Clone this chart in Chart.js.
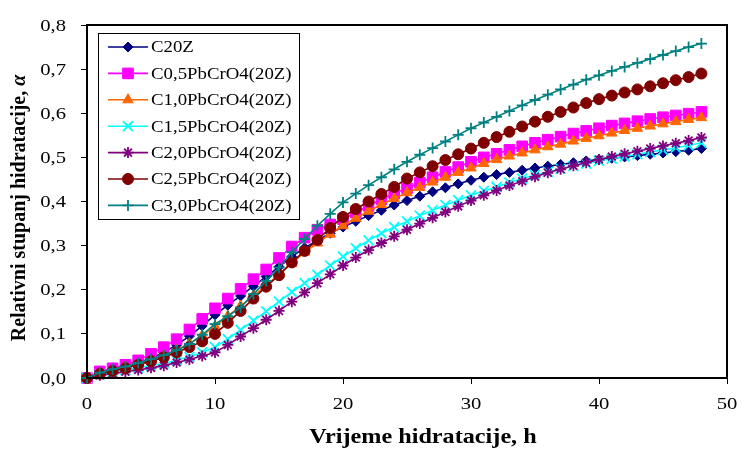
<!DOCTYPE html>
<html>
<head>
<meta charset="utf-8">
<script src="https://cdn.jsdelivr.net/npm/chart.js@4/dist/chart.umd.min.js"></script>
<style>
  html, body { margin: 0; padding: 0; background: #fff; }
  #wrap { width: 742px; height: 449px; }
</style>
</head>
<body>
<div id="wrap"><canvas id="hydration-chart" width="742" height="449"></canvas></div>
<script>
let hours = Array.from({length: 49}, (_, i) => i);

let seriesNames = ["C20Z", "C0,5PbCrO4(20Z)", "C1,0PbCrO4(20Z)", "C1,5PbCrO4(20Z)",
                   "C2,0PbCrO4(20Z)", "C2,5PbCrO4(20Z)", "C3,0PbCrO4(20Z)"];

let c20z = [0, 0.012, 0.02, 0.027, 0.035, 0.045, 0.058, 0.075, 0.095, 0.118,
  0.143, 0.165, 0.186, 0.208, 0.23, 0.252, 0.275, 0.295, 0.312, 0.328,
  0.342, 0.355, 0.368, 0.38, 0.392, 0.402, 0.412, 0.422, 0.431, 0.44,
  0.448, 0.455, 0.461, 0.466, 0.471, 0.476, 0.48, 0.484, 0.488, 0.492,
  0.495, 0.498, 0.501, 0.504, 0.507, 0.51, 0.513, 0.516, 0.52];

let c05 = [0, 0.015, 0.022, 0.03, 0.04, 0.055, 0.07, 0.088, 0.11, 0.134,
  0.158, 0.18, 0.202, 0.224, 0.246, 0.272, 0.298, 0.318, 0.336, 0.348,
  0.36, 0.375, 0.39, 0.405, 0.418, 0.43, 0.443, 0.455, 0.467, 0.478,
  0.49, 0.5, 0.508, 0.517, 0.525, 0.533, 0.54, 0.547, 0.554, 0.56,
  0.566, 0.572, 0.577, 0.582, 0.587, 0.591, 0.595, 0.599, 0.603];

let c10 = [0, 0.01, 0.018, 0.025, 0.032, 0.04, 0.05, 0.063, 0.078, 0.096,
  0.117, 0.14, 0.163, 0.186, 0.21, 0.235, 0.26, 0.285, 0.306, 0.326,
  0.345, 0.362, 0.378, 0.393, 0.407, 0.42, 0.432, 0.444, 0.455, 0.466,
  0.476, 0.486, 0.495, 0.503, 0.51, 0.517, 0.524, 0.53, 0.537, 0.543,
  0.549, 0.555, 0.561, 0.566, 0.571, 0.576, 0.581, 0.586, 0.59];

let c15 = [0, 0.008, 0.013, 0.018, 0.023, 0.028, 0.033, 0.04, 0.048, 0.058,
  0.07, 0.088, 0.109, 0.13, 0.151, 0.173, 0.195, 0.215, 0.234, 0.255,
  0.275, 0.294, 0.312, 0.328, 0.342, 0.355, 0.368, 0.38, 0.392, 0.403,
  0.414, 0.424, 0.433, 0.443, 0.452, 0.46, 0.467, 0.474, 0.48, 0.486,
  0.492, 0.497, 0.502, 0.507, 0.512, 0.517, 0.522, 0.527, 0.533];

let c20 = [0, 0.006, 0.01, 0.014, 0.018, 0.023, 0.028, 0.035, 0.042, 0.05,
  0.058, 0.075, 0.094, 0.113, 0.132, 0.152, 0.173, 0.194, 0.215, 0.235,
  0.255, 0.273, 0.29, 0.306, 0.321, 0.336, 0.35, 0.363, 0.376, 0.389,
  0.402, 0.414, 0.425, 0.436, 0.446, 0.456, 0.465, 0.473, 0.481, 0.488,
  0.495, 0.502, 0.508, 0.514, 0.52, 0.526, 0.532, 0.538, 0.545];

let c25 = [0, 0.01, 0.016, 0.022, 0.03, 0.038, 0.047, 0.058, 0.07, 0.083,
  0.1, 0.125, 0.152, 0.18, 0.207, 0.233, 0.262, 0.288, 0.313, 0.34,
  0.365, 0.383, 0.4, 0.417, 0.433, 0.452, 0.466, 0.48, 0.494, 0.507,
  0.52, 0.533, 0.546, 0.558, 0.57, 0.581, 0.592, 0.603, 0.613, 0.623,
  0.632, 0.64, 0.647, 0.654, 0.661, 0.668, 0.675, 0.682, 0.69];

let c30 = [0, 0.012, 0.02, 0.026, 0.034, 0.043, 0.052, 0.063, 0.077, 0.098,
  0.122, 0.14, 0.16, 0.19, 0.22, 0.25, 0.285, 0.315, 0.345, 0.372,
  0.398, 0.418, 0.437, 0.455, 0.473, 0.49, 0.506, 0.521, 0.536, 0.551,
  0.566, 0.579, 0.592, 0.605, 0.618, 0.63, 0.642, 0.654, 0.665, 0.676,
  0.686, 0.696, 0.705, 0.714, 0.723, 0.732, 0.741, 0.75, 0.758];

let xTicks = [0, 10, 20, 30, 40, 50];
let yTicks = [0, 0.1, 0.2, 0.3, 0.4, 0.5, 0.6, 0.7, 0.8];

let allValues = [c20z, c05, c10, c15, c20, c25, c30];
let colors = ["#000080", "#FF00FF", "#FF6600", "#00FFFF", "#800080", "#800000", "#008080"];
let styles = ["rectRot", "rect", "triangle", "crossRot", "star", "circle", "cross"];
let radii = [5, 7.5, 6, 7, 5.5, 5.5, 5.5];

let serif = "'Liberation Serif', 'Times New Roman', serif";

function isStroked(s){
  return s == "cross" || s == "crossRot" || s == "star";
}

function toPoints(vals){
  return vals.map((v, i) => ({x: hours[i], y: v}));
}

let datasets = allValues.map((vals, i) => ({
  label: seriesNames[i],
  data: toPoints(vals),
  borderColor: colors[i],
  backgroundColor: colors[i],
  pointBackgroundColor: colors[i],
  pointBorderColor: colors[i],
  pointStyle: styles[i],
  pointRadius: radii[i],
  pointBorderWidth: isStroked(styles[i]) ? 1.8 : 1,
  borderWidth: 1.6,
  tension: 0,
  clip: false,
  order: 6 - i
}));

// text stretched sideways like the original picture
function wideText(ctx, text, x, y, sx, align){
  ctx.save();
  ctx.translate(x, y);
  ctx.scale(sx, 1);
  ctx.textAlign = align;
  ctx.fillText(text, 0, 0);
  ctx.restore();
}

let framePlugin = {
  id: 'frame',
  afterDraw(chart){
    let ctx = chart.ctx;
    let a = chart.chartArea;
    let xs = chart.scales.x, ys = chart.scales.y;
    ctx.save();
    ctx.strokeStyle = "#000";
    ctx.lineWidth = 2;
    ctx.strokeRect(a.left, a.top, a.right - a.left, a.bottom - a.top);

    // tick labels and titles
    ctx.fillStyle = "#000";
    ctx.textBaseline = "middle";
    ctx.font = "17.5px " + serif;
    yTicks.forEach(v => {
      wideText(ctx, v.toFixed(1).replace('.', ','), 66, ys.getPixelForValue(v) + 1, 1.18, 'right');
    });
    xTicks.forEach(v => {
      wideText(ctx, String(v), xs.getPixelForValue(v), 404, 1.18, 'center');
    });
    ctx.font = "bold 22px " + serif;
    wideText(ctx, "Vrijeme hidratacije, h", 423, 437, 1.1, 'center');

    ctx.save();
    ctx.translate(20, 208);
    ctx.rotate(-Math.PI / 2);
    let t1 = "Relativni stupanj hidratacije, ";
    ctx.font = "bold 20px " + serif;
    let w1 = ctx.measureText(t1).width;
    ctx.font = "italic bold 20px " + serif;
    let w2 = ctx.measureText("α").width;
    let start = -(w1 + w2) / 2;
    ctx.textAlign = "left";
    ctx.font = "bold 20px " + serif;
    ctx.fillText(t1, start, 0);
    ctx.font = "italic bold 20px " + serif;
    ctx.fillText("α", start + w1, 0);
    ctx.restore();

    // legend
    let bx = 98, by = 33, bw = 201, bh = 186;
    ctx.fillStyle = "#fff";
    ctx.fillRect(bx, by, bw, bh);
    ctx.lineWidth = 1;
    ctx.strokeStyle = "#000";
    ctx.strokeRect(bx + 0.5, by + 0.5, bw, bh);
    ctx.font = "16.5px " + serif;
    for (let i = 0; i < seriesNames.length; i++) {
      let y = 47 + i * 26.4;
      ctx.strokeStyle = colors[i];
      ctx.lineWidth = 1.6;
      ctx.beginPath();
      ctx.moveTo(108, y);
      ctx.lineTo(148, y);
      ctx.stroke();
      ctx.fillStyle = colors[i];
      ctx.lineWidth = datasets[i].pointBorderWidth;
      Chart.helpers.drawPoint(ctx, {pointStyle: styles[i], radius: radii[i], rotation: 0, borderWidth: datasets[i].pointBorderWidth}, 128, y);
      ctx.fillStyle = "#000";
      wideText(ctx, seriesNames[i], 151, y + 1, 1.14, 'left');
    }
    ctx.restore();
  }
};

let ctx = document.getElementById('hydration-chart').getContext('2d');
let hydrationChart = new Chart(ctx, {
  type: 'line',
  data: { datasets: datasets },
  options: {
    responsive: false,
    animation: false,
    layout: { padding: { left: 0, right: 15, top: 25, bottom: 0 } },
    plugins: {
      legend: { display: false },
      tooltip: { enabled: false }
    },
    scales: {
      x: {
        type: 'linear',
        min: 0,
        max: 50,
        afterBuildTicks: s => { s.ticks = xTicks.map(v => ({value: v})); },
        afterFit: s => { s.height = 71; },
        grid: { drawOnChartArea: false, drawTicks: true, tickLength: 6, color: "#000" },
        border: { display: true, color: "#000", width: 2 },
        ticks: { display: false }
      },
      y: {
        type: 'linear',
        min: 0,
        max: 0.8,
        afterBuildTicks: s => { s.ticks = yTicks.map(v => ({value: v})); },
        afterFit: s => { s.width = 87; },
        grid: { drawOnChartArea: false, drawTicks: true, tickLength: 6, color: "#000" },
        border: { display: true, color: "#000", width: 2 },
        ticks: { display: false }
      }
    }
  },
  plugins: [framePlugin]
});
</script>
</body>
</html>
